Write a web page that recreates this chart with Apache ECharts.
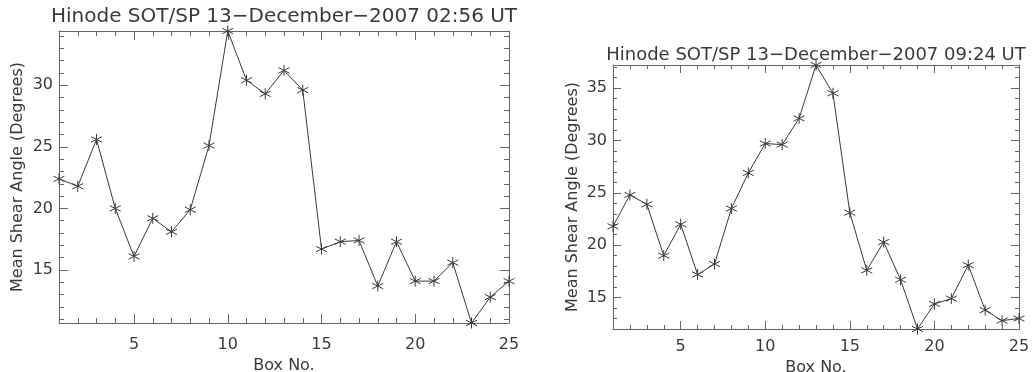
<!DOCTYPE html>
<html>
<head>
<meta charset="utf-8">
<script src="https://cdn.jsdelivr.net/npm/echarts@6/dist/echarts.min.js"></script>
<style>
  html, body { margin: 0; padding: 0; background: #fff; }
  #chart { width: 1034px; height: 372px; }
</style>
</head>
<body>
<div id="chart"></div>
<script>
// box numbers along the x axis
const boxes = [1, 2, 3, 4, 5, 6, 7, 8, 9, 10, 11, 12, 13, 14, 15, 16, 17, 18, 19, 20, 21, 22, 23, 24, 25]

// mean shear angle (degrees) per box
const shear0256 = [22.4, 21.8, 25.6, 20.0, 16.1, 19.2, 18.1, 19.9, 25.1, 34.4, 30.4, 29.3, 31.2, 29.6, 16.7, 17.3, 17.4, 13.7, 17.3, 14.1, 14.1, 15.6, 10.7, 12.8, 14.1]
const shear0924 = [21.8, 24.8, 23.9, 19.0, 22.0, 17.2, 18.2, 23.5, 26.9, 29.7, 29.6, 32.1, 37.2, 34.5, 23.1, 17.6, 20.3, 16.7, 12.0, 14.4, 14.9, 18.1, 13.8, 12.8, 13.0]

// tick labels
const xTicks = [5, 10, 15, 20, 25]
const yTicksLeft = [15, 20, 25, 30]
const yTicksRight = [15, 20, 25, 30, 35]

const titles = [
    'Hinode SOT/SP 13\u2212December\u22122007 02:56 UT',
    'Hinode SOT/SP 13\u2212December\u22122007 09:24 UT',
]

const ink = '#3a3a3a'
const frame = '#666'
const font = 'DejaVu Sans'
const star = 'path://M0,-10L0,10M-8.66,-5L8.66,5M-8.66,5L8.66,-5'

function minorTicks(lo, hi) {
    const out = []
    for (let v = Math.ceil(lo); v <= Math.floor(hi); v++) out.push(v)
    return out
}

// two axes on every side: a framed one with major ticks and a bare one with minor ticks
function axesFor(dim, gridIndex, min, max, labels, opts) {
    const minor = minorTicks(min, max)
    const sides = dim === 'x' ? ['bottom', 'top'] : ['left', 'right']
    const list = []
    sides.forEach((pos, k) => {
        list.push({
            type: 'value', gridIndex, position: pos, min, max,
            name: k === 0 ? opts.name : '',
            nameLocation: 'middle', nameGap: opts.nameGap,
            nameRotate: dim === 'y' ? 90 : 0,
            nameTextStyle: { fontFamily: font, fontSize: opts.nameSize, color: ink },
            axisLine: { show: true, onZero: false, lineStyle: { color: frame, width: 1 } },
            axisTick: { show: true, inside: true, length: opts.major, customValues: labels, lineStyle: { color: frame } },
            axisLabel: {
                show: k === 0, customValues: labels, margin: opts.margin,
                fontFamily: font, fontSize: opts.labelSize, color: ink,
            },
            splitLine: { show: false },
        })
        list.push({
            type: 'value', gridIndex, position: pos, min, max,
            axisLine: { show: false, onZero: false },
            axisTick: { show: true, inside: true, length: opts.minor, customValues: minor, lineStyle: { color: frame } },
            axisLabel: { show: false },
            splitLine: { show: false },
        })
    })
    return list
}

const xAxis = [
    ...axesFor('x', 0, 1, 25, xTicks, { name: 'Box No.', nameGap: 34, nameSize: 16, labelSize: 16, margin: 14, major: 9, minor: 5 }),
    ...axesFor('x', 1, 1, 25, xTicks, { name: 'Box No.', nameGap: 29, nameSize: 16, labelSize: 16, margin: 10, major: 8, minor: 4 }),
]
const yAxis = [
    ...axesFor('y', 0, 10.7, 34.4, yTicksLeft, { name: 'Mean Shear Angle (Degrees)', nameGap: 33, nameSize: 16, labelSize: 16, margin: 6, major: 9, minor: 5 }),
    ...axesFor('y', 1, 12.0, 37.2, yTicksRight, { name: 'Mean Shear Angle (Degrees)', nameGap: 32, nameSize: 16, labelSize: 16, margin: 6, major: 8, minor: 4 }),
]

function pairs(values) {
    return boxes.map((b, i) => [b, values[i]])
}

function lineSeries(values, axisBase) {
    return {
        type: 'line',
        xAxisIndex: axisBase,
        yAxisIndex: axisBase,
        data: pairs(values),
        symbol: star,
        symbolSize: 11,
        clip: false,
        lineStyle: { color: ink, width: 1 },
        itemStyle: { color: ink, borderColor: ink, borderWidth: 1 },
        animation: false,
    }
}

const chart = echarts.init(document.getElementById('chart'), null, { renderer: 'canvas' })
chart.setOption({
    backgroundColor: '#fff',
    animation: false,
    title: [
        { text: titles[0], left: 279, top: 2, textAlign: 'center', textStyle: { fontFamily: font, fontWeight: 'normal', fontSize: 20, color: ink } },
        { text: titles[1], left: 811, top: 41, textAlign: 'center', textStyle: { fontFamily: font, fontWeight: 'normal', fontSize: 18, color: ink } },
    ],
    grid: [
        { left: 59, right: 525, top: 31, bottom: 49, outerBoundsMode: 'none' },
        { left: 613, right: 15, top: 65, bottom: 43, outerBoundsMode: 'none' },
    ],
    xAxis,
    yAxis,
    series: [
        lineSeries(shear0256, 0),
        lineSeries(shear0924, 4),
    ],
})
</script>
</body>
</html>
